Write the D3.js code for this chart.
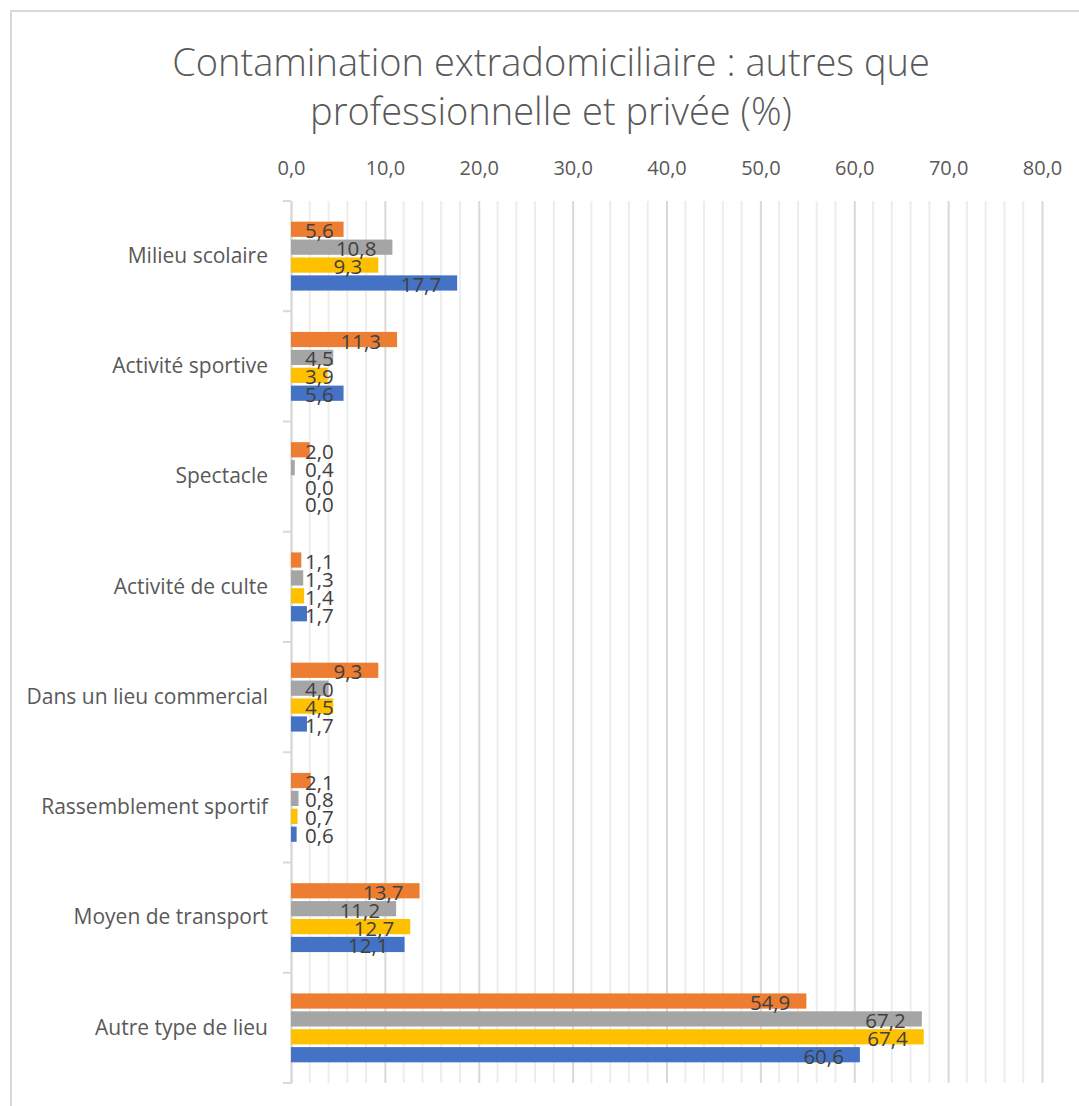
<!DOCTYPE html>
<html>
<head>
<meta charset="utf-8">
<script src="https://cdn.jsdelivr.net/npm/d3@7"></script>
<style>
  body { margin: 0; background: #fff; }
  svg { display: block; }
</style>
</head>
<body>
<div id="chart"></div>
<script>
// DONNÉES
const categories = ["Milieu scolaire", "Activité sportive", "Spectacle", "Activité de culte",
  "Dans un lieu commercial", "Rassemblement sportif", "Moyen de transport", "Autre type de lieu"];
const seriesNames = ["Série orange", "Série grise", "Série jaune", "Série bleue"];
const seriesColors = ["#ED7D31", "#A5A5A5", "#FFC000", "#4472C4"];
const orangeValues = [5.6, 11.3, 2.0, 1.1, 9.3, 2.1, 13.7, 54.9];
const grayValues = [10.8, 4.5, 0.4, 1.3, 4.0, 0.8, 11.2, 67.2];
const yellowValues = [9.3, 3.9, 0.0, 1.4, 4.5, 0.7, 12.7, 67.4];
const blueValues = [17.7, 5.6, 0.0, 1.7, 1.7, 0.6, 12.1, 60.6];
const xTicks = [0, 10, 20, 30, 40, 50, 60, 70, 80];
const titleLines = ["Contamination extradomiciliaire : autres que", "professionnelle et privée (%)"];

const allValues = [orangeValues, grayValues, yellowValues, blueValues];

// CONFIG
const W = 1079, H = 1106;
const FONT = "'Open Sans', 'Noto Sans', sans-serif";
const plot = { left: 291, right: 1042, top: 201, bottom: 1083 };

const svg = d3.select("#chart").append("svg").attr("width", W).attr("height", H);

// cadre du graphique
svg.append("rect").attr("x", 11).attr("y", 11).attr("width", W + 20).attr("height", H + 20)
  .attr("fill", "none").attr("stroke", "#d9d9d9").attr("stroke-width", 2);

// titre
svg.append("text").attr("x", 551).attr("y", 76).attr("text-anchor", "middle")
  .style("font-family", FONT).style("font-weight", 300).style("font-size", "38px").style("fill", "#595959")
  .selectAll("tspan").data(titleLines).join("tspan")
  .attr("x", 551).attr("dy", (d, i) => i === 0 ? 0 : 49).text(d => d);

const x = d3.scaleLinear().domain([0, 80]).range([plot.left, plot.right]);
const y = d3.scaleBand().domain(categories).range([plot.top, plot.bottom])
  .paddingInner(0.375).paddingOuter(0.1875);
const ySub = d3.scaleBand().domain(d3.range(seriesNames.length)).range([0, y.bandwidth()]).paddingInner(0.15);

// grille secondaire (tous les 2)
const minor = d3.range(0, 81, 2).filter(v => v % 10 !== 0);
svg.append("g").selectAll("line").data(minor).join("line")
  .attr("x1", d => x(d)).attr("x2", d => x(d)).attr("y1", plot.top).attr("y2", plot.bottom)
  .attr("stroke", "#ededed").attr("stroke-width", 2);

// axe du haut + grille principale
const xAxis = svg.append("g").attr("transform", `translate(0,${plot.top})`)
  .call(d3.axisTop(x).tickValues(xTicks).tickSize(-(plot.bottom - plot.top)).tickPadding(26)
    .tickFormat(d => d3.format(".1f")(d).replace(".", ",")));
xAxis.select(".domain").remove();
xAxis.selectAll(".tick line").attr("stroke", "#d9d9d9").attr("stroke-width", 2);
xAxis.selectAll(".tick text").style("font-family", FONT).style("font-size", "20px").style("fill", "#595959");

// axe des catégories
const yAxis = svg.append("g").attr("transform", `translate(${plot.left},0)`)
  .call(d3.axisLeft(y).tickSize(0).tickPadding(23));
yAxis.select(".domain").attr("stroke", "#d9d9d9").attr("stroke-width", 2);
yAxis.selectAll(".tick text").style("font-family", FONT).style("font-size", "21px").style("fill", "#595959");
const bounds = categories.map(c => y(c) - y.step() * y.paddingInner() / 2).concat([plot.bottom]);
yAxis.append("g").selectAll("line").data(bounds).join("line")
  .attr("x1", -8).attr("x2", 0).attr("y1", d => d).attr("y2", d => d)
  .attr("stroke", "#d9d9d9").attr("stroke-width", 2);

// barres
const rows = [];
categories.forEach((c, ci) => {
  allValues.forEach((vals, si) => rows.push({ cat: c, s: si, v: vals[ci] }));
});

svg.append("g").selectAll("rect").data(rows).join("rect")
  .attr("x", x(0)).attr("y", d => y(d.cat) + ySub(d.s))
  .attr("width", d => x(d.v) - x(0)).attr("height", ySub.bandwidth())
  .attr("fill", d => seriesColors[d.s]);

// étiquettes de données
const labels = svg.append("g").selectAll("text").data(rows).join("text")
  .attr("y", d => y(d.cat) + ySub(d.s) + ySub.bandwidth() / 2 + 1)
  .attr("dominant-baseline", "central").attr("text-anchor", "end")
  .style("font-family", FONT).style("font-size", "20.5px").style("fill", "#404040")
  .text(d => d3.format(".1f")(d.v).replace(".", ","));
labels.each(function (d) {
  const w = this.getComputedTextLength();
  d3.select(this).attr("x", Math.max(x(d.v) - 16, x(0) + 14 + w));
});
</script>
</body>
</html>
